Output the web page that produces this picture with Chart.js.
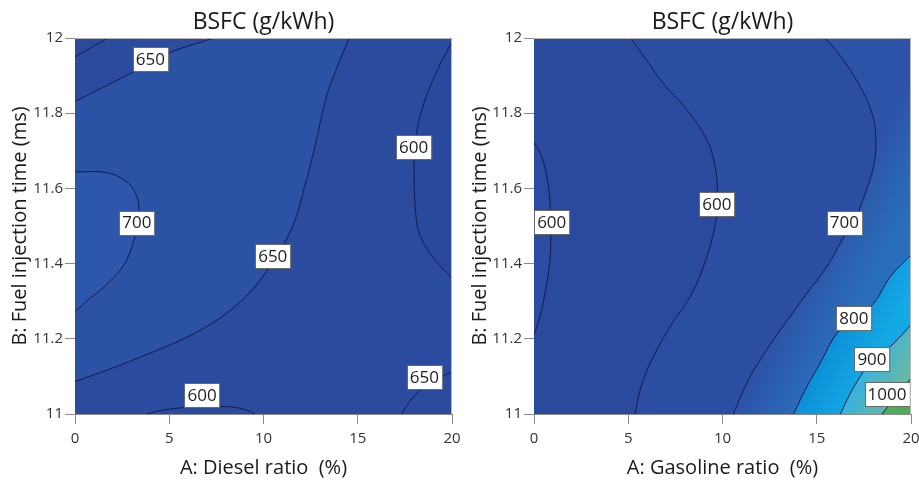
<!DOCTYPE html>
<html>
<head>
<meta charset="utf-8">
<script src="https://cdn.jsdelivr.net/npm/chart.js@4.4.1/dist/chart.umd.min.js"></script>
<style>
  body { margin: 0; background: #fff; }
  #wrap { position: relative; width: 919px; height: 483px; }
  canvas { position: absolute; top: 0; }
</style>
</head>
<body>
<div id="wrap">
  <canvas id="dieselChart" width="460" height="483" style="left:0"></canvas>
  <canvas id="gasChart" width="459" height="483" style="left:460px"></canvas>
</div>
<script>
// axes
const xTicks = [0, 5, 10, 15, 20];
const yTicks = [11, 11.2, 11.4, 11.6, 11.8, 12];
const chartTitle = 'BSFC (g/kWh)';
const yTitle = 'B: Fuel injection time (ms)';

// left plot: contour lines as [A %, B ms]
const dieselCorner = [[0, 11.95], [1.76, 12]];
const dieselUpper650 = [[0, 11.831], [3.1, 11.91], [4.93, 11.959], [7.36, 12]];
const dieselLoop700 = [[0, 11.644], [1.76, 11.641], [2.82, 11.614], [3.28, 11.578], [3.4, 11.538], [3.38, 11.505],
  [3.19, 11.472], [2.66, 11.402], [1.76, 11.348], [0.69, 11.303], [0, 11.272]];
const dieselMid650 = [[0, 11.086], [3.1, 11.144], [6.65, 11.223], [8.87, 11.303], [10.27, 11.388], [11.53, 11.498],
  [12.23, 11.614], [12.68, 11.702], [13.39, 11.853], [13.92, 11.924], [14.54, 12]];
const dieselRight600 = [[20.1, 12], [19.06, 11.897], [18.35, 11.8], [18.03, 11.71], [17.99, 11.63], [18.05, 11.55],
  [18.26, 11.481], [18.97, 11.418], [20, 11.361]];
const dieselBottom600 = [[3.1, 10.99], [4.88, 11.012], [7.0, 11.019], [8.78, 11.015], [9.93, 10.99]];
const dieselCorner650 = [[17.2, 10.99], [17.82, 11.037], [18.6, 11.075], [19.41, 11.097], [20, 11.113]];
const dieselLabels = [[4.0, 11.944, '650'], [3.28, 11.509, '700'], [10.49, 11.421, '650'],
  [17.96, 11.709, '600'], [6.74, 11.051, '600'], [18.53, 11.099, '650']];

// right plot
const gasLeft600 = [[0, 11.724], [0.41, 11.684], [0.71, 11.622], [0.85, 11.56], [0.89, 11.463], [0.81, 11.392],
  [0.58, 11.321], [0.32, 11.259], [0, 11.21]];
const gasMid600 = [[5.13, 12], [5.98, 11.941], [6.86, 11.879], [8.11, 11.809], [9.17, 11.729], [9.61, 11.658],
  [9.73, 11.596], [9.74, 11.543], [9.43, 11.463], [8.99, 11.392], [8.28, 11.312], [7.22, 11.232], [6.16, 11.135],
  [5.63, 11.064], [5.36, 11.0]];
const gas700 = [[15.45, 12], [16.42, 11.941], [17.31, 11.87], [17.93, 11.8], [18.14, 11.729], [18.01, 11.658],
  [17.57, 11.587], [17.04, 11.521], [16.34, 11.463], [15.54, 11.392], [14.48, 11.321], [13.06, 11.223],
  [12.0, 11.144], [11.29, 11.082], [10.58, 11.0]];
const gas800 = [[20, 11.423], [18.9, 11.365], [18.01, 11.294], [17.04, 11.255], [16.07, 11.215], [15.18, 11.135],
  [14.48, 11.073], [13.77, 11.0]];
const gas900 = [[20, 11.237], [18.9, 11.179], [17.8, 11.135], [17.31, 11.1], [16.78, 11.055], [16.25, 11.0]];
const gas1000 = [[20, 11.095], [19.26, 11.05], [18.46, 11.0]];
const gasLabels = [[0.94, 11.51, '600'], [9.7, 11.559, '600'], [16.46, 11.509, '700'],
  [16.97, 11.255, '800'], [17.93, 11.145, '900'], [18.73, 11.053, '1000']];

const FONT = "'Open Sans', 'Noto Sans', sans-serif";
const xMin = xTicks[0], xMax = xTicks[xTicks.length - 1];
const yMin = yTicks[0], yMax = yTicks[yTicks.length - 1];

const pts = arr => arr.map(([x, y]) => ({ x, y }));

function lineSet(arr) {
  return {
    data: pts(arr), showLine: true, borderColor: '#161a4c', borderWidth: 1,
    pointRadius: 0, tension: 0.4, fill: false, order: 0
  };
}

// colour band: a closed shape, optional gradient between two data points
function bandSet(arr, order, colors, from, to) {
  return {
    data: pts(arr), showLine: true, borderWidth: 0, borderColor: 'rgba(0,0,0,0)',
    pointRadius: 0, tension: 0, fill: 'shape', order,
    backgroundColor(ctx) {
      const chart = ctx.chart;
      if (colors.length === 1 || !chart.chartArea) return colors[0];
      const sx = chart.scales.x, sy = chart.scales.y;
      const g = chart.ctx.createLinearGradient(
        sx.getPixelForValue(from[0]), sy.getPixelForValue(from[1]),
        sx.getPixelForValue(to[0]), sy.getPixelForValue(to[1]));
      g.addColorStop(0, colors[0]);
      g.addColorStop(1, colors[1]);
      return g;
    }
  };
}

const plotBase = {
  id: 'plotBase',
  beforeDatasetsDraw(chart, args, opts) {
    const { ctx, chartArea: a } = chart;
    ctx.save();
    ctx.fillStyle = opts.color;
    ctx.fillRect(a.left, a.top, a.right - a.left, a.bottom - a.top);
    ctx.restore();
  },
  afterDraw(chart) {
    const { ctx, chartArea: a } = chart;
    ctx.save();
    ctx.strokeStyle = '#b5b5b5';
    ctx.lineWidth = 1;
    ctx.beginPath();
    ctx.moveTo(a.left, a.top + 0.5);
    ctx.lineTo(a.right - 0.5, a.top + 0.5);
    ctx.lineTo(a.right - 0.5, a.bottom);
    ctx.stroke();
    // title centred on the plot
    ctx.fillStyle = '#1a1a1a';
    ctx.font = '23px ' + FONT;
    ctx.textAlign = 'center';
    ctx.textBaseline = 'middle';
    ctx.fillText(chartTitle, (a.left + a.right) / 2, 22);
    ctx.restore();
  }
};

const contourLabels = {
  id: 'contourLabels',
  afterDatasetsDraw(chart, args, opts) {
    const { ctx } = chart;
    const sx = chart.scales.x, sy = chart.scales.y;
    ctx.save();
    ctx.font = '17px ' + FONT;
    ctx.textAlign = 'center';
    ctx.textBaseline = 'middle';
    opts.items.forEach(([x, y, t]) => {
      const px = sx.getPixelForValue(x), py = sy.getPixelForValue(y);
      const w = ctx.measureText(t).width + 6, h = 24;
      const l = Math.round(px - w / 2) + 0.5, tp = Math.round(py - h / 2) + 0.5;
      ctx.fillStyle = '#fff';
      ctx.fillRect(l, tp, w, h);
      ctx.strokeStyle = '#6a6a6a';
      ctx.lineWidth = 1;
      ctx.strokeRect(l, tp, w, h);
      ctx.fillStyle = '#1e1e1e';
      ctx.fillText(t, px, py + 1);
    });
    ctx.restore();
  }
};

const tickText = v => String(Number(v.toFixed(1)));

function makeChart(id, xTitle, yWidth, datasets, labels, base) {
  return new Chart(document.getElementById(id), {
    type: 'scatter',
    data: { datasets },
    plugins: [plotBase, contourLabels],
    options: {
      responsive: false,
      animation: false,
      devicePixelRatio: 1,
      layout: { padding: { top: 38, right: 8, left: 0, bottom: 0 } },
      plugins: {
        legend: { display: false },
        tooltip: { enabled: false },
        plotBase: { color: base },
        contourLabels: { items: labels }
      },
      scales: {
        x: {
          type: 'linear', min: xMin, max: xMax,
          afterBuildTicks: s => { s.ticks = xTicks.map(v => ({ value: v })); },
          afterFit: s => { s.height = 69; s.paddingLeft = 0; s.paddingRight = 0; },
          ticks: { color: '#333', font: { family: FONT, size: 15 }, padding: 6, maxRotation: 0, callback: tickText },
          grid: { drawOnChartArea: false, tickLength: 10, color: '#8a8a8a' },
          border: { color: '#8a8a8a' },
          title: { display: true, text: xTitle, color: '#1a1a1a', font: { family: FONT, size: 20 }, padding: { top: 0, bottom: 3 } }
        },
        y: {
          type: 'linear', min: yMin, max: yMax,
          afterBuildTicks: s => { s.ticks = yTicks.map(v => ({ value: v })); },
          afterFit: s => { s.width = yWidth; },
          ticks: { color: '#333', font: { family: FONT, size: 15 }, padding: 2, callback: tickText },
          grid: { drawOnChartArea: false, tickLength: 10, color: '#8a8a8a' },
          border: { color: '#8a8a8a' },
          title: { display: true, text: yTitle, color: '#1a1a1a', font: { family: FONT, size: 20 }, padding: { top: 8, bottom: 0 } }
        }
      }
    }
  });
}

const dieselSets = [
  ...[dieselCorner, dieselUpper650, dieselLoop700, dieselMid650, dieselRight600, dieselBottom600, dieselCorner650].map(lineSet),
  bandSet([...dieselMid650, ...dieselUpper650.slice().reverse()], 3, ['#2c52a6']),
  bandSet(dieselLoop700, 2, ['#2d57aa']),
  bandSet(dieselRight600, 2, ['#294a9c'])
];

const gasSets = [
  ...[gasLeft600, gasMid600, gas700, gas800, gas900, gas1000].map(lineSet),
  bandSet(gasLeft600, 6, ['#2b4ca0']),
  bandSet([...gasMid600, [xMax, yMin], [xMax, yMax]], 6, ['#2b4da2']),
  bandSet([...gas700, [xMax, yMin], [xMax, yMax]], 5, ['#2c53a7', '#2a6fbb'], [10.58, 11.0], [13.58, 10.922]),
  bandSet([...gas800, [xMax, yMin]], 4, ['#0c90d8', '#14a8e4'], [13.77, 11.0], [15.89, 10.944]),
  bandSet([...gas900, [xMax, yMin]], 3, ['#38b2de', '#66b8a8'], [16.25, 11.0], [18.08, 10.952]),
  bandSet([...gas1000, [xMax, yMin]], 2, ['#4cae55'])
];

makeChart('dieselChart', 'A: Diesel ratio  (%)', 75, dieselSets, dieselLabels, '#2a4b9e');
makeChart('gasChart', 'A: Gasoline ratio  (%)', 74, gasSets, gasLabels, '#2a4a9e');
</script>
</body>
</html>
